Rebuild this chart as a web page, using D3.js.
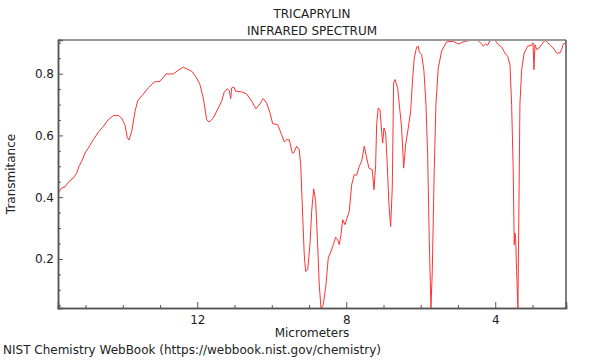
<!DOCTYPE html>
<html>
<head>
<meta charset="utf-8">
<script src="https://cdn.jsdelivr.net/npm/d3@7"></script>
<style>
body { margin: 0; background: #fff; }
svg text { font-family: "DejaVu Sans", sans-serif; font-size: 12px; fill: #222; }
</style>
</head>
<body>
<script>
// spectrum: wavelength (micrometers) and transmittance
var micrometers = [15.74, 15.64, 15.552, 15.444, 15.329, 15.238, 15.176, 15.103, 15.015, 14.926,
  14.792, 14.658, 14.523, 14.389, 14.255, 14.121, 14.030, 13.941, 13.879, 13.834,
  13.761, 13.672, 13.600, 13.477, 13.315, 13.154, 13.001, 12.840, 12.644, 12.510,
  12.376, 12.242, 12.150, 12.016, 11.928, 11.839, 11.748, 11.686, 11.570, 11.436,
  11.345, 11.275, 11.195, 11.141, 11.103, 11.077, 11.015, 10.969, 10.808, 10.674,
  10.540, 10.424, 10.317, 10.228, 10.137, 10.048, 9.976, 9.842, 9.734, 9.664,
  9.600, 9.530, 9.450, 9.412, 9.332, 9.262, 9.224, 9.181, 9.128, 9.090,
  9.036, 8.975, 8.929, 8.875, 8.821, 8.768, 8.725, 8.679, 8.617, 8.545,
  8.483, 8.411, 8.349, 8.285, 8.231, 8.188, 8.142, 8.097, 8.035, 7.981,
  7.919, 7.855, 7.785, 7.721, 7.651, 7.587, 7.517, 7.452, 7.391, 7.302,
  7.256, 7.211, 7.184, 7.141, 7.095, 7.050, 7.023, 6.988, 6.942, 6.899,
  6.854, 6.808, 6.765, 6.728, 6.693, 6.620, 6.558, 6.513, 6.459, 6.405,
  6.336, 6.271, 6.217, 6.174, 6.110, 6.067, 6.040, 5.976, 5.914, 5.860,
  5.815, 5.772, 5.726, 5.691, 5.638, 5.592, 5.530, 5.439, 5.305, 5.128,
  4.993, 4.813, 4.634, 4.456, 4.365, 4.322, 4.258, 4.204, 4.142, 4.005,
  3.919, 3.828, 3.740, 3.667, 3.605, 3.560, 3.517, 3.490, 3.471, 3.452,
  3.425, 3.391, 3.364, 3.337, 3.291, 3.222, 3.131, 3.023, 2.985, 2.961,
  2.934, 2.888, 2.824, 2.755, 2.685, 2.641, 2.596, 2.534, 2.443, 2.352,
  2.263, 2.218, 2.171, 2.10];
var transmittance = [0.413, 0.430, 0.433, 0.451, 0.462, 0.478, 0.500, 0.516, 0.543, 0.559,
  0.586, 0.610, 0.629, 0.651, 0.664, 0.665, 0.656, 0.633, 0.592, 0.585,
  0.613, 0.678, 0.712, 0.730, 0.754, 0.773, 0.775, 0.799, 0.799, 0.811,
  0.821, 0.813, 0.808, 0.786, 0.764, 0.721, 0.651, 0.643, 0.656, 0.689,
  0.711, 0.741, 0.751, 0.745, 0.719, 0.754, 0.756, 0.743, 0.741, 0.734,
  0.711, 0.686, 0.702, 0.719, 0.705, 0.673, 0.638, 0.635, 0.602, 0.579,
  0.586, 0.586, 0.543, 0.543, 0.565, 0.554, 0.505, 0.375, 0.213, 0.159,
  0.165, 0.246, 0.354, 0.427, 0.386, 0.246, 0.116, 0.040, 0.051, 0.116,
  0.203, 0.224, 0.246, 0.270, 0.262, 0.246, 0.278, 0.327, 0.311, 0.332,
  0.354, 0.440, 0.473, 0.471, 0.500, 0.516, 0.565, 0.527, 0.494, 0.488,
  0.424, 0.505, 0.635, 0.689, 0.683, 0.613, 0.575, 0.624, 0.608, 0.505,
  0.375, 0.305, 0.430, 0.770, 0.781, 0.754, 0.678, 0.624, 0.494, 0.570,
  0.624, 0.678, 0.786, 0.851, 0.886, 0.889, 0.870, 0.862, 0.808, 0.700,
  0.537, 0.267, 0.040, 0.159, 0.484, 0.700, 0.818, 0.873, 0.903, 0.905,
  0.896, 0.905, 0.908, 0.907, 0.896, 0.889, 0.896, 0.892, 0.907, 0.908,
  0.894, 0.886, 0.867, 0.856, 0.829, 0.700, 0.484, 0.246, 0.284, 0.267,
  0.159, 0.040, 0.375, 0.700, 0.813, 0.867, 0.889, 0.892, 0.900, 0.813,
  0.894, 0.878, 0.883, 0.894, 0.905, 0.908, 0.900, 0.894, 0.883, 0.867,
  0.867, 0.878, 0.896, 0.900];
var xTicks = [12, 8, 4];
var yTicks = [0.2, 0.4, 0.6, 0.8];
var titleLines = ["TRICAPRYLIN", "INFRARED SPECTRUM"];

var W = 600, H = 360,
    pLeft = 58, pRight = 566, pTop = 40, pBottom = 308;

var svg = d3.select("body").append("svg")
    .attr("width", W)
    .attr("height", H);

var x = d3.scaleLinear().domain([15.74, 2.1]).range([pLeft, pRight]),
    y = d3.scaleLinear().domain([0.041, 0.909]).range([pBottom, pTop]);

svg.append("clipPath").attr("id", "plotClip")
  .append("rect")
    .attr("x", pLeft).attr("y", pTop)
    .attr("width", pRight - pLeft).attr("height", pBottom - pTop);

// spectrum
var pts = micrometers.map(function(m, i) { return [m, transmittance[i]]; });
svg.append("path")
    .datum(pts)
    .attr("clip-path", "url(#plotClip)")
    .attr("fill", "none")
    .attr("stroke", "#ff3333")
    .attr("stroke-width", 1)
    .attr("stroke-linejoin", "round")
    .attr("d", d3.line()
        .x(function(d) { return x(d[0]); })
        .y(function(d) { return y(d[1]); }));

// frame
svg.append("line").attr("x1", pLeft).attr("x2", pRight).attr("y1", pTop).attr("y2", pTop)
    .attr("stroke", "#9a9a9a").attr("stroke-width", 2);
svg.append("line").attr("x1", pRight).attr("x2", pRight).attr("y1", pTop).attr("y2", pBottom)
    .attr("stroke", "#555").attr("stroke-width", 1.5);

// axes with inward ticks
var xMinor = d3.range(3, 16).filter(function(v) { return xTicks.indexOf(v) < 0; });
var gx = svg.append("g").attr("transform", "translate(0," + pBottom + ")");
gx.call(d3.axisBottom(x).tickValues(xMinor).tickSize(-3).tickFormat(""));
gx.append("g").call(d3.axisBottom(x).tickValues(xTicks).tickSize(-6).tickPadding(7).tickFormat(d3.format("d")));

var yMinor = d3.range(0.05, 0.91, 0.05).filter(function(v) {
  return yTicks.every(function(t) { return Math.abs(t - v) > 1e-6; });
});
var gy = svg.append("g").attr("transform", "translate(" + pLeft + ",0)");
gy.call(d3.axisLeft(y).tickValues(yMinor).tickSize(-3).tickFormat(""));
gy.append("g").call(d3.axisLeft(y).tickValues(yTicks).tickSize(-5).tickPadding(4).tickFormat(d3.format(".1f")));

svg.selectAll(".domain").attr("stroke", "#555").attr("stroke-width", 1.5);
svg.selectAll(".tick line").attr("stroke", "#555");
svg.selectAll(".tick text").style("font-size", "12px").attr("fill", "#222");

// titles
svg.selectAll(".title")
    .data(titleLines)
  .enter().append("text")
    .attr("class", "title")
    .attr("x", (pLeft + pRight) / 2)
    .attr("y", function(d, i) { return 18 + i * 16.6; })
    .attr("text-anchor", "middle")
    .text(function(d) { return d; });

svg.append("text")
    .attr("x", (pLeft + pRight) / 2)
    .attr("y", 337)
    .attr("text-anchor", "middle")
    .text("Micrometers");

svg.append("text")
    .attr("transform", "translate(15," + ((pTop + pBottom) / 2) + ") rotate(-90)")
    .attr("text-anchor", "middle")
    .text("Transmitance");

svg.append("text")
    .attr("x", 3)
    .attr("y", 354)
    .text("NIST Chemistry WebBook (https://webbook.nist.gov/chemistry)");
</script>
</body>
</html>
